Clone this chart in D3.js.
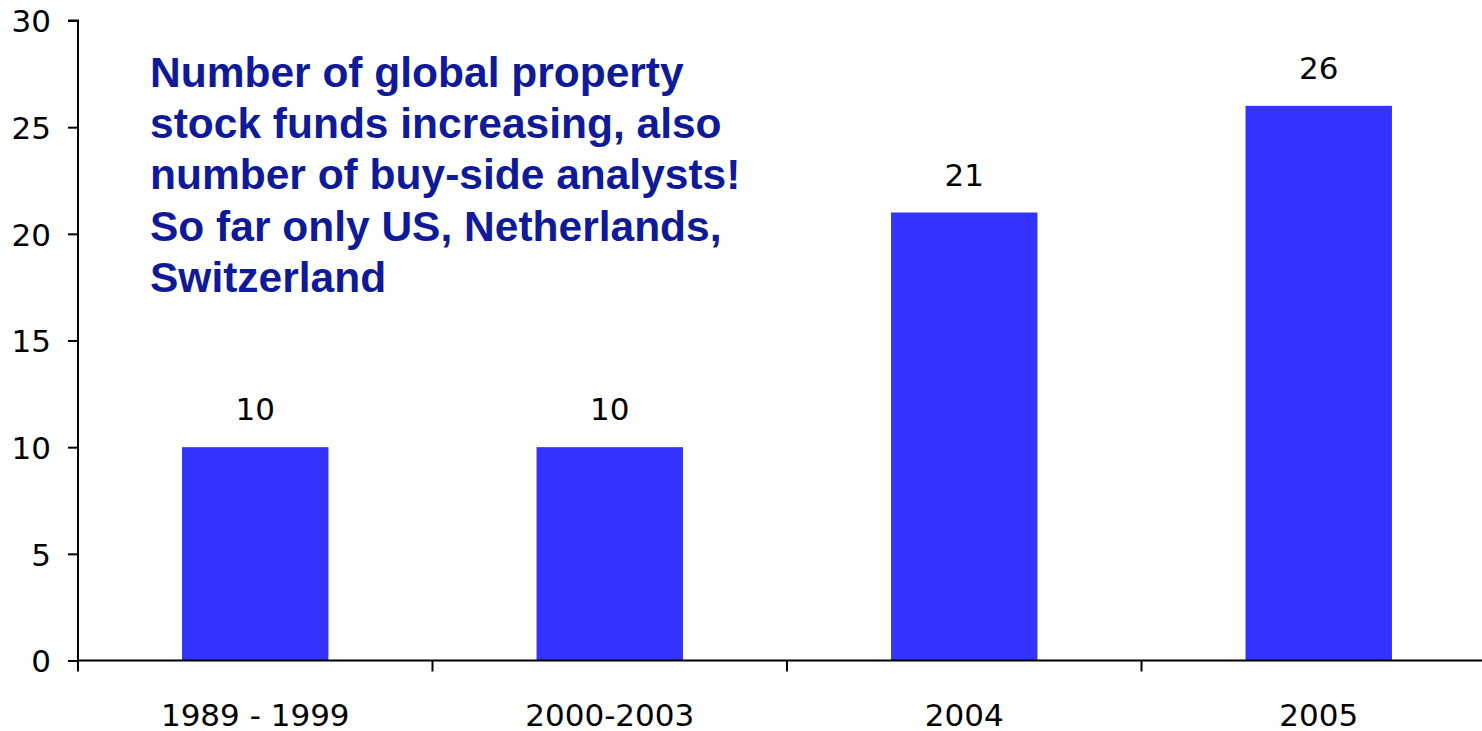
<!DOCTYPE html>
<html>
<head>
<meta charset="utf-8">
<script src="https://cdn.jsdelivr.net/npm/d3@7"></script>
<style>
  html, body { margin: 0; padding: 0; background: #fff; }
  svg { display: block; }
</style>
</head>
<body>
<svg id="chart" width="1482" height="731"></svg>
<script>
// Number of global property stock funds by period
const periods = ["1989 - 1999", "2000-2003", "2004", "2005"];
const fundCounts = [10, 10, 21, 26];
const yTicks = [0, 5, 10, 15, 20, 25, 30];
const noteLines = [
  "Number of global property",
  "stock funds increasing, also",
  "number of buy-side analysts!",
  "So far only US, Netherlands,",
  "Switzerland"
];

const svg = d3.select("#chart");
const labelFont = "'DejaVu Sans', 'Open Sans', sans-serif";
const labelSize = 31;

const x = d3.scaleBand().domain(periods).range([78, 1496]).padding(0);
const y = d3.scaleLinear().domain([0, 30]).range([660.5, 20.5]);
const barFrac = 0.413;

// Bars
svg.append("g").selectAll("rect")
  .data(periods)
  .join("rect")
  .attr("x", (d) => x(d) + x.bandwidth() * (1 - barFrac) / 2)
  .attr("width", x.bandwidth() * barFrac)
  .attr("y", (d, i) => y(fundCounts[i]))
  .attr("height", (d, i) => y(0) - y(fundCounts[i]))
  .attr("fill", "#3333ff");

// Value labels
svg.append("g").selectAll("text")
  .data(periods)
  .join("text")
  .attr("x", (d) => x(d) + x.bandwidth() / 2)
  .attr("y", (d, i) => y(fundCounts[i]) - 27)
  .attr("text-anchor", "middle")
  .attr("font-family", labelFont)
  .attr("font-size", labelSize)
  .attr("fill", "#000")
  .text((d, i) => fundCounts[i]);

// Y axis
const yAxis = svg.append("g")
  .attr("transform", "translate(78,0)")
  .call(d3.axisLeft(y).tickValues(yTicks).tickSize(10).tickPadding(17).tickFormat(d3.format("d")));
yAxis.selectAll("path, line").attr("stroke", "#000").attr("stroke-width", 2);
yAxis.select(".domain").attr("d", `M-10,${y(30)}H0V${y(0)}`);
yAxis.selectAll("text")
  .attr("font-family", labelFont)
  .attr("font-size", labelSize)
  .attr("fill", "#000")
  .attr("dy", "0.36em");

// X axis with ticks at the category boundaries
const xBounds = periods.map((d) => x(d)).concat([x(periods[periods.length - 1]) + x.bandwidth()]);
const xAxisG = svg.append("g").attr("transform", `translate(0,${y(0)})`);
xAxisG.append("line")
  .attr("x1", 78).attr("x2", 1482)
  .attr("stroke", "#000").attr("stroke-width", 2);
xAxisG.selectAll("line.tick")
  .data(xBounds)
  .join("line")
  .attr("class", "tick")
  .attr("x1", (d) => d).attr("x2", (d) => d)
  .attr("y1", 0).attr("y2", 11)
  .attr("stroke", "#000").attr("stroke-width", 2);
xAxisG.selectAll("text")
  .data(periods)
  .join("text")
  .attr("x", (d) => x(d) + x.bandwidth() / 2)
  .attr("y", 65)
  .attr("text-anchor", "middle")
  .attr("font-family", labelFont)
  .attr("font-size", labelSize)
  .attr("fill", "#000")
  .text((d) => d);

// Annotation
svg.append("text")
  .attr("x", 150)
  .attr("y", 87)
  .attr("font-family", "'Liberation Sans', Arial, sans-serif")
  .attr("font-weight", "bold")
  .attr("font-size", 42.5)
  .attr("fill", "#0f1a99")
  .selectAll("tspan")
  .data(noteLines)
  .join("tspan")
  .attr("x", 150)
  .attr("dy", (d, i) => (i === 0 ? 0 : 51.2))
  .text((d) => d);
</script>
</body>
</html>
